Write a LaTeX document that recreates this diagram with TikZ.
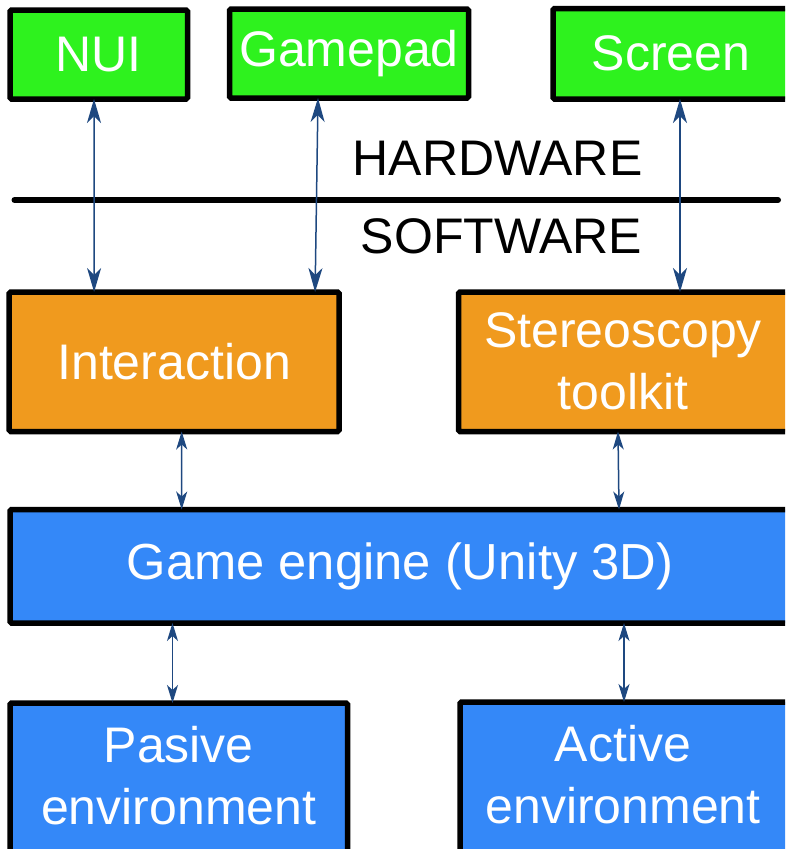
\documentclass[tikz,border=0pt]{standalone}
\usepackage{fontspec}
\setmainfont{Liberation Sans}
\usetikzlibrary{arrows.meta}
\definecolor{hwgreen}{RGB}{46,242,30}
\definecolor{sworange}{RGB}{240,154,30}
\definecolor{engblue}{RGB}{52,136,248}
\definecolor{arrblue}{RGB}{30,72,128}
\newcommand{\padR}{\hspace*{12pt}}
\newcommand{\padB}{\rule[-12pt]{0pt}{12pt}}
\begin{document}
\begin{tikzpicture}[x=1pt,y=-1pt,
  box/.style={draw=black, line width=5.5pt, rounded corners=1.5pt, outer sep=0pt, inner sep=0pt,
    text=white, align=center, font=\fontsize{50}{62}\selectfont},
  hwbox/.style={box, fill=hwgreen},
  swbox/.style={box, fill=sworange},
  engbox/.style={box, fill=engblue},
  layerlabel/.style={anchor=base, inner sep=0pt, text=black, font=\fontsize{50}{62}\selectfont},
  longarr/.style={draw=arrblue, line width=1.5pt,
    {Stealth[length=24pt,width=14pt,inset=7pt]}-{Stealth[length=24pt,width=14pt,inset=7pt]}},
  shortarr/.style={draw=arrblue, line width=1.5pt,
    {Stealth[length=18pt,width=11pt,inset=5pt]}-{Stealth[length=18pt,width=11pt,inset=5pt]}},
  sepline/.style={draw=black, line width=6pt, line cap=round}
]
\useasboundingbox (0,0) rectangle (785,849);
\clip (0,0) rectangle (785,849);

% hardware
\node[hwbox, minimum width=177.5pt, minimum height=89pt] (nui) at (98.75,54.5) {NUI};
\node[hwbox, minimum width=239pt, minimum height=89pt] (pad) at (349,53.5) {Gamepad};
\node[hwbox, minimum width=248pt, minimum height=90.5pt] (screen) at (677,53.75) {Screen\padR};

% layer labels and separator
\node[layerlabel] (hw) at (497.5,175) {HARDWARE};
\node[layerlabel] (sw) at (501.5,253.5) {SOFTWARE};
\coordinate (sepL) at (14.5,200);
\coordinate (sepR) at (778,200);
\draw[sepline] (sepL) -- (sepR);

% software
\node[swbox, minimum width=329.8pt, minimum height=139.5pt] (inter) at (174.1,361.75) {Interaction};
\node[swbox, minimum width=341pt, minimum height=139.5pt] (stereo) at (629,361.75) {Stereoscopy\padR\\toolkit\padR};
\node[engbox, minimum width=792pt, minimum height=113.5pt, font=\fontsize{50.7}{62}\selectfont] (engine) at (406,566.25) {Game engine (Unity 3D)\padR};
\node[engbox, minimum width=337.5pt, minimum height=157pt] (pasive) at (178.75,781.5) {Pasive\\environment\padB};
\node[engbox, minimum width=338pt, minimum height=157pt] (active) at (629,780.5) {Active\padR\\environment\padR\padB};

% connectors
\draw[longarr] ([xshift=-4.75pt]nui.south) -- ([xshift=-80pt]inter.north);
\draw[longarr] ([xshift=-31pt]pad.south) -- ([xshift=141pt]inter.north);
\draw[longarr] ([xshift=3pt]screen.south) -- ([xshift=51pt]stereo.north);
\draw[shortarr] ([xshift=7.6pt]inter.south) -- ([xshift=-224.3pt]engine.north);
\draw[shortarr] ([xshift=-11pt]stereo.south) -- ([xshift=213pt]engine.north);
\draw[shortarr] ([xshift=-233.5pt]engine.south) -- ([xshift=-6.25pt]pasive.north);
\draw[shortarr] ([xshift=218pt]engine.south) -- ([xshift=-5pt]active.north);
\end{tikzpicture}
\end{document}
